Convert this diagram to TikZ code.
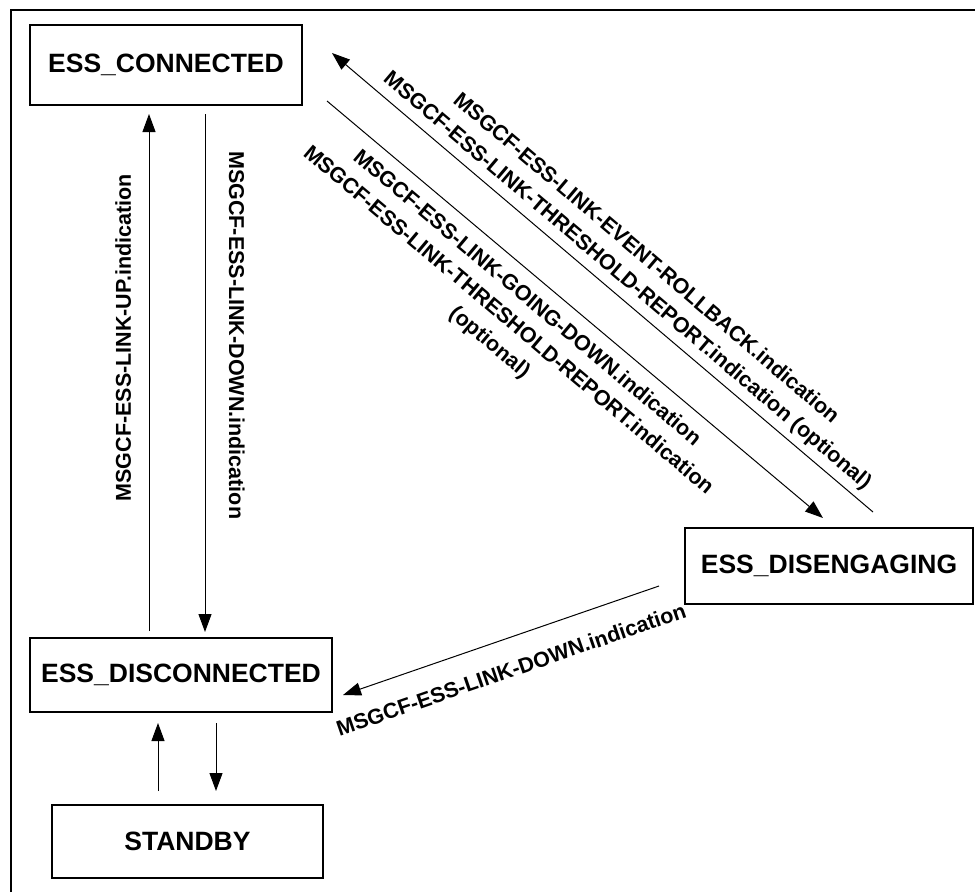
\documentclass[tikz,border=0pt]{standalone}
\usepackage{fontspec}
\setmainfont{Liberation Sans}
\usetikzlibrary{arrows.meta,positioning}

\begin{document}
\begin{tikzpicture}[x=1pt,y=-1pt,
  state/.style={draw,rectangle,line width=2pt,inner sep=0pt,align=center,
    font=\fontsize{26.5}{32}\selectfont\bfseries},
  arrow/.style={-{Triangle[length=18pt,width=13pt]},line width=1pt},
  backarrow/.style={{Triangle[length=18pt,width=13pt]}-,line width=1pt},
  msg/.style={font=\fontsize{21.5}{29}\selectfont\bfseries,align=center},
]
  \useasboundingbox (0,0) rectangle (975,892);
  \draw[line width=1.5pt] (11,892) -- (11,10) -- (975,10);

  % states
  \node[state,minimum width=272pt,minimum height=80pt] (conn) at (166,65) {ESS\_CONNECTED};
  \node[state,minimum width=302pt,minimum height=74pt] (disc) at (181,675) {ESS\_DISCONNECTED};
  \node[state,minimum width=271pt,minimum height=73pt] (stby) at (187.5,841.5) {STANDBY};
  \node[state,minimum width=288pt,minimum height=76pt] (diseng) at (829,566) {ESS\_DISENGAGING};

  % transitions
  \draw[arrow] ([xshift=-32pt,yshift=6pt]disc.north) --
    node[pos=0.567,xshift=-14pt,rotate=90,anchor=south,msg]{MSGCF-ESS-LINK-UP.indication}
    ([xshift=-17pt,yshift=-8pt]conn.south);
  \draw[arrow] ([xshift=39pt,yshift=-8pt]conn.south) --
    node[pos=0.427,xshift=20pt,rotate=-90,anchor=south,msg]{MSGCF-ESS-LINK-DOWN.indication}
    ([xshift=24pt,yshift=5pt]disc.north);
  \draw[arrow] ([xshift=-29.5pt,yshift=13pt]stby.north) -- ([xshift=-23pt,yshift=-10pt]disc.south);
  \draw[arrow] ([xshift=35pt,yshift=-10pt]disc.south) -- ([xshift=28.5pt,yshift=13pt]stby.north);
  \draw[backarrow] ([xshift=29pt,yshift=12pt]conn.east) --
    node[pos=0.525,sloped,above=3pt,msg]{MSGCF-ESS-LINK-EVENT-ROLLBACK.indication\\
      MSGCF-ESS-LINK-THRESHOLD-REPORT.indication (optional)}
    ([xshift=44pt,yshift=15pt]diseng.north);
  \draw[arrow] ([xshift=24pt,yshift=5pt]conn.south east) --
    node[pos=0.432,sloped,below=9pt,msg]{MSGCF-ESS-LINK-GOING-DOWN.indication\\
      MSGCF-ESS-LINK-THRESHOLD-REPORT.indication\\(optional)}
    ([xshift=-6pt,yshift=9pt]diseng.north);
  \draw[arrow] ([xshift=-25pt,yshift=-20pt]diseng.west) --
    node[pos=0.5,sloped,below=19pt,msg]{MSGCF-ESS-LINK-DOWN.indication}
    ([xshift=10pt,yshift=-20pt]disc.east);
\end{tikzpicture}
\end{document}
